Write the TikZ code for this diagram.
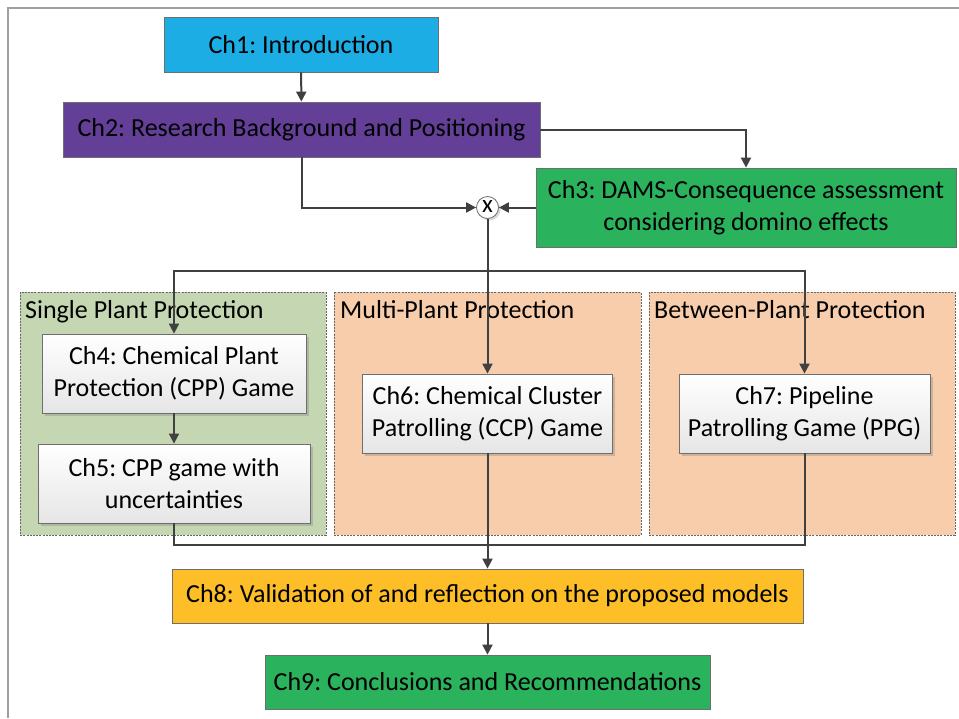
\documentclass[tikz,border=0pt]{standalone}
\usepackage{fontspec}
\setmainfont{Carlito}
\frenchspacing
\usetikzlibrary{arrows.meta,shadows}

\definecolor{introblue}{RGB}{28,173,228}
\definecolor{bgpurple}{RGB}{99,63,151}
\definecolor{chgreen}{RGB}{43,178,93}
\definecolor{valorange}{RGB}{253,190,40}
\definecolor{grpgreen}{RGB}{197,215,178}
\definecolor{grporange}{RGB}{247,205,171}
\definecolor{linkgray}{RGB}{64,64,64}
\definecolor{edgegray}{RGB}{110,110,110}
\definecolor{framegray}{RGB}{160,160,160}

\tikzset{
  chapter/.style={draw=edgegray, line width=0.8pt, align=center, inner sep=0pt,
    font=\fontsize{26}{32}\selectfont, text=black},
  gamebox/.style={chapter, top color=white, bottom color=black!10,
    drop shadow={shadow xshift=2.5pt, shadow yshift=-2.5pt, opacity=0.35}},
  group/.style={draw=black!60, dashed, dash pattern=on 2pt off 1.2pt, line width=0.8pt},
  grouptitle/.style={anchor=base west, inner sep=0pt, font=\fontsize{26}{32}\selectfont},
  link/.style={draw=linkgray, line width=2pt},
  flow/.style={link, -{Triangle[length=10pt,width=10pt]}},
}

\begin{document}
\begin{tikzpicture}[x=1pt,y=-1pt]
\useasboundingbox (0,0) rectangle (959,718);

% page frame
\draw[framegray, line width=2pt] (959,7.5) -- (8,7.5) -- (8,718);

% protection groups
\path[group, fill=grpgreen] (20,292) rectangle (326,535);
\path[group, fill=grporange] (334,292) rectangle (641,535);
\path[group, fill=grporange] (649,292) rectangle (955,535);
\node[grouptitle] (gsingle) at (25,318) {Single Plant Protection};
\node[grouptitle] (gmulti) at (340,318) {Multi-Plant Protection};
\node[grouptitle] (gbetween) at (654,318) {Between-Plant Protection};

% chapters
\node[chapter, fill=introblue, minimum width=274pt, minimum height=55pt] (ch1) at (301,44.5) {Ch1: Introduction};
\node[chapter, fill=bgpurple, minimum width=477pt, minimum height=55pt] (ch2) at (301.5,129.5) {Ch2: Research Background and Positioning};
\node[chapter, fill=chgreen, minimum width=420pt, minimum height=79pt] (ch3) at (746,207.5) {Ch3: DAMS-Consequence assessment\\considering domino effects};
\node[draw=edgegray, line width=0.8pt, fill=white, circle, minimum size=22pt, inner sep=0pt,
  font=\fontsize{25}{25}\selectfont,
  drop shadow={shadow xshift=2pt, shadow yshift=-2pt, opacity=0.3}] (mix) at (487.5,207.5) {\raisebox{1pt}{x}};

\node[gamebox, minimum width=264pt, minimum height=79pt] (ch4) at (174,373.5) {Ch4: Chemical Plant\\Protection (CPP) Game};
\node[gamebox, minimum width=272pt, minimum height=79pt] (ch5) at (174,483.5) {Ch5: CPP game with\\uncertainties};
\node[gamebox, minimum width=250pt, minimum height=79pt] (ch6) at (487.5,413.5) {Ch6: Chemical Cluster\\Patrolling (CCP) Game};
\node[gamebox, minimum width=251pt, minimum height=79pt] (ch7) at (804.5,413.5) {Ch7: Pipeline\\Patrolling Game (PPG)};

\node[chapter, fill=valorange, minimum width=631pt, minimum height=54pt] (ch8) at (487.5,596) {Ch8: Validation of and reflection on the proposed models};
\node[chapter, fill=chgreen, minimum width=445pt, minimum height=54pt] (ch9) at (487.5,682) {Ch9: Conclusions and Recommendations};

% connectors
\coordinate (split) at (487.5,271);
\coordinate (merge) at (487.5,545);

\draw[flow] (ch1) -- (ch2);
\draw[flow] (ch2.east) -| (ch3.north);
\draw[flow] (ch2.south) |- (mix.west);
\draw[flow] (ch3.west) -- (mix.east);
\draw[flow] (mix.south) -- (ch6.north);
\draw[flow] (split) -| (ch4.north);
\draw[flow] (split) -| (ch7.north);
\draw[flow] (ch4) -- (ch5);
\draw[link] (ch5.south) |- (merge) -| (ch7.south);
\draw[flow] (ch6.south) -- (ch8.north);
\draw[flow] (ch8) -- (ch9);
\end{tikzpicture}
\end{document}
